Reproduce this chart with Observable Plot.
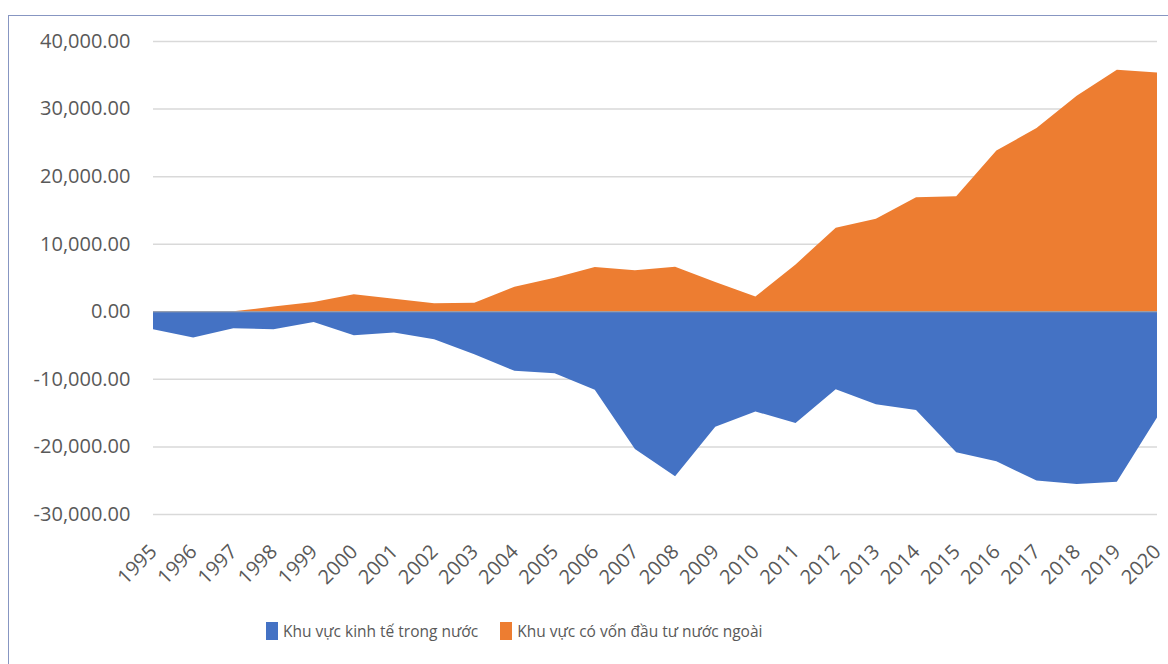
<!DOCTYPE html>
<html>
<head>
<meta charset="utf-8">
<script src="https://cdn.jsdelivr.net/npm/d3@7"></script>
<script src="https://cdn.jsdelivr.net/npm/@observablehq/plot@0.6"></script>
<style>
  html, body { margin: 0; padding: 0; background: #fff; overflow: hidden; width: 1168px; height: 664px; }
  #frame { position: absolute; left: 8px; top: 15px; width: 1170px; height: 700px; border: 1.5px solid #8796c2; box-sizing: border-box; }
  #chart { position: absolute; left: 0; top: 0; }
  #legend { position: absolute; left: 266px; top: 620px; display: flex; gap: 22px; font-family: "Open Sans", sans-serif; font-size: 15.5px; color: #595959; }
  .item { display: flex; align-items: center; gap: 5px; }
  .sw { width: 12px; height: 18px; display: inline-block; }
</style>
</head>
<body>
<div id="frame"></div>
<div id="chart"></div>
<div id="legend"></div>
<script>
const years = [1995,1996,1997,1998,1999,2000,2001,2002,2003,2004,2005,2006,2007,2008,2009,2010,2011,2012,2013,2014,2015,2016,2017,2018,2019,2020];
const domestic = [-2660,-3890,-2510,-2660,-1580,-3545,-3150,-4140,-6350,-8810,-9160,-11620,-20380,-24420,-17090,-14820,-16540,-11520,-13740,-14620,-20870,-22200,-25060,-25550,-25210,-15710];
const foreign = [0,0,0,690,1370,2510,1870,1180,1280,3640,4970,6550,6060,6600,4330,2170,6940,12360,13690,16880,17030,23780,27130,31900,35750,35350];
const seriesNames = ["Khu vực kinh tế trong nước", "Khu vực có vốn đầu tư nước ngoài"];
const colors = ["#4472c4", "#ed7d31"];
const yTicks = [-30000,-20000,-10000,0,10000,20000,30000,40000];

const rows = [];
years.forEach((yr, i) => {
  rows.push({year: yr, value: domestic[i], series: seriesNames[0]});
  rows.push({year: yr, value: foreign[i], series: seriesNames[1]});
});

const fmt = d3.format(",.2f");
const yFmt = d => (d < 0 ? "-" : "") + fmt(Math.abs(d));

const chart = Plot.plot({
  width: 1168,
  height: 610,
  marginLeft: 153,
  marginRight: 11,
  marginTop: 41,
  marginBottom: 96,
  style: { fontFamily: "'Open Sans', sans-serif", fontSize: "20px", color: "#595959", background: "transparent" },
  x: { domain: [1995, 2020] },
  y: { domain: [-30000, 40000] },
  color: { domain: seriesNames, range: colors },
  marks: [
    Plot.gridY(yTicks, { stroke: "#d9d9d9", strokeOpacity: 1, strokeWidth: 1.5 }),
    Plot.areaY(rows, { x: "year", y1: 0, y2: "value", z: "series", fill: "series", fillOpacity: 1 }),
    Plot.ruleY([0], { stroke: "#a6a6a6", strokeWidth: 1 }),
    Plot.axisY(yTicks, { tickSize: 0, tickPadding: 23, tickFormat: yFmt, label: null, fill: "#595959", fontSize: 20 }),
    Plot.axisX(years, { tickSize: 0, tickPadding: 34, tickRotate: -45, tickFormat: d => String(d), label: null, fill: "#595959", fontSize: 20 })
  ]
});
document.getElementById("chart").appendChild(chart);

const legend = document.getElementById("legend");
seriesNames.forEach((name, i) => {
  const item = document.createElement("div");
  item.className = "item";
  const sw = document.createElement("span");
  sw.className = "sw";
  sw.style.background = colors[i];
  const t = document.createElement("span");
  t.textContent = name;
  item.appendChild(sw);
  item.appendChild(t);
  legend.appendChild(item);
});
</script>
</body>
</html>
